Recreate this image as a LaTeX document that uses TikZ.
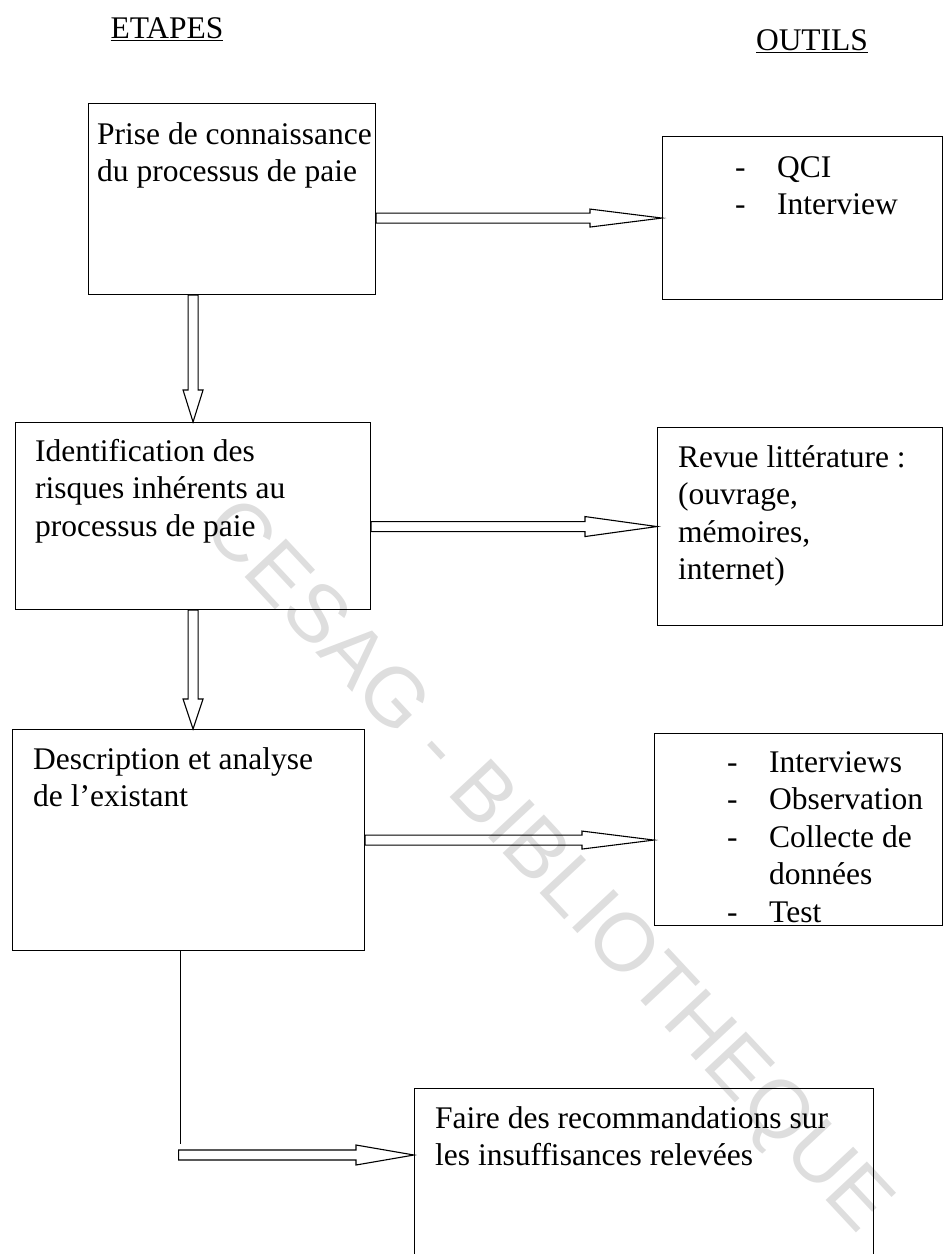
\documentclass[tikz,border=0pt]{standalone}
\usepackage{fontspec}
\setmainfont{Liberation Serif}
\newfontfamily\wmfont{Liberation Sans}
\usetikzlibrary{calc}
\newcommand{\harr}[4]{%
  \path[arr] let \p1=(#1), \p2=(#2) in
    (\x1,\y1+5pt) -- (\x2-#3pt,\y1+5pt) -- (\x2-#3pt,\y1+#4pt) -- (\x2,\y1)
    -- (\x2-#3pt,\y1-#4pt) -- (\x2-#3pt,\y1-5pt) -- (\x1,\y1-5pt) -- cycle;}
\newcommand{\varr}[4]{%
  \path[arr] let \p1=(#1), \p2=(#2) in
    (\x1-5pt,\y1) -- (\x1-5pt,\y2+#3pt) -- (\x1-#4pt,\y2+#3pt) -- (\x1,\y2)
    -- (\x1+#4pt,\y2+#3pt) -- (\x1+5pt,\y2+#3pt) -- (\x1+5pt,\y1) -- cycle;}
\begin{document}
\begin{tikzpicture}[x=1pt,y=-1pt,
  box/.style={draw,line width=1.1pt,inner sep=0pt,anchor=north west},
  txt/.style={anchor=base west,align=left,inner sep=0pt,
    font=\fontsize{31.5}{37.5}\selectfont},
  head/.style={anchor=base,inner sep=0pt,font=\fontsize{31.5}{37.5}\selectfont},
  arr/.style={draw,line width=1.1pt,line join=miter},
  conn/.style={draw,line width=1.1pt},
  wm/.style={inner sep=0pt,text=black!13,rotate=-47,
    font=\wmfont\fontsize{82}{90}\selectfont}]
\useasboundingbox (0,0) rectangle (943,1254);

% watermark
\node[wm] (wmark) at (545,868) {CESAG - BIBLIOTHEQUE};

% headers
\node[head] (hetapes) at (167,38) {\underline{ETAPES}};
\node[head] (houtils) at (812,50) {\underline{OUTILS}};

% boxes
\node[box,minimum width=287pt,minimum height=191pt] (b1) at (88,103) {};
\node[box,minimum width=280pt,minimum height=163pt] (r1) at (662,136) {};
\node[box,minimum width=355pt,minimum height=187pt] (b2) at (15,422) {};
\node[box,minimum width=285pt,minimum height=198pt] (r2) at (657,427) {};
\node[box,minimum width=352pt,minimum height=221pt] (b3) at (12,729) {};
\node[box,minimum width=288pt,minimum height=192pt] (r3) at (654,733) {};
\node[box,minimum width=459pt,minimum height=250pt] (b4) at (414,1088) {};

% texts (base anchor = baseline of the last line)
\node[txt] (t1) at ($(b1.north west)+(9,78.5)$)
  {Prise de connaissance\\du processus de paie};
\node[txt] (tr1) at ($(r1.north west)+(73,78.5)$)
  {\makebox[42pt][l]{-}QCI\\\makebox[42pt][l]{-}Interview};
\node[txt] (t2) at ($(b2.north west)+(20,114)$)
  {Identification des\\risques inh\'erents au\\processus de paie};
\node[txt] (tr2) at ($(r2.north west)+(21,152.5)$)
  {Revue litt\'erature :\\(ouvrage,\\m\'emoires,\\internet)};
\node[txt] (t3) at ($(b3.north west)+(21,77.5)$)
  {Description et analyse\\de l'existant};
\node[txt] (tr3) at ($(r3.north west)+(73,189)$)
  {\makebox[42pt][l]{-}Interviews\\\makebox[42pt][l]{-}Observation\\
   \makebox[42pt][l]{-}Collecte de\\\makebox[42pt][l]{}donn\'ees\\
   \makebox[42pt][l]{-}Test};
\node[txt] (t4) at ($(b4.north west)+(21,77.5)$)
  {Faire des recommandations sur\\les insuffisances relev\'ees};

% connectors
\coordinate (a1s) at (b1.east |- r1.west);
\harr{a1s}{r1.west}{72}{9}
\coordinate (a2s) at (b2.east |- r2.west);
\harr{a2s}{r2.west}{72}{10}
\coordinate (a3e) at (b3.east -| r3.west);
\harr{b3.east}{a3e}{72}{9}
\coordinate (d1s) at (b1.south -| b2.north);
\varr{d1s}{b2.north}{32}{10}
\coordinate (d2e) at (b2.south |- b3.north);
\varr{b2.south}{d2e}{30}{10}
\coordinate (c1) at ($(b3.south)+(-8,0)$);
\coordinate (c2) at ($(c1)+(0,193)$);
\path[conn] (c1) -- (c2);
\coordinate (c3) at ($(b4.north west)+(0,67)$);
\coordinate (c4) at ($(c1 |- c3)+(-2,0)$);
\harr{c4}{c3}{58}{10}
\end{tikzpicture}
\end{document}
